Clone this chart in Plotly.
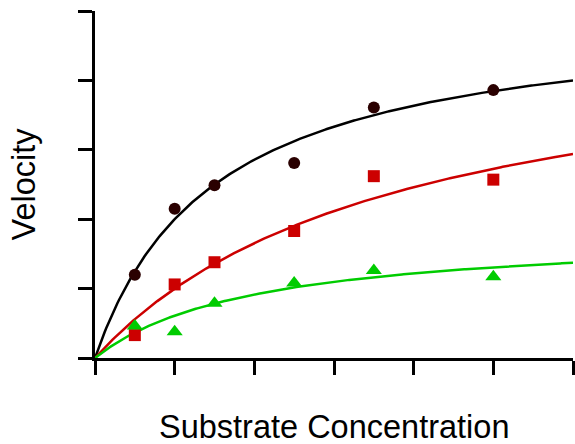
import numpy as np
import plotly.graph_objects as go

# Measured data
substrate = [0.5, 1.0, 1.5, 2.5, 3.5, 5.0]
v_black = [1.20, 2.15, 2.49, 2.81, 3.61, 3.86]
v_red = [0.33, 1.06, 1.38, 1.83, 2.62, 2.57]
v_green = [0.46, 0.38, 0.79, 1.08, 1.26, 1.17]

# Fitted Michaelis-Menten parameters
vmax = [5.0, 4.8, 1.83]
km = [1.5, 3.8, 2.0]

x_ticks = [0, 1, 2, 3, 4, 5, 6]
y_ticks = [0, 1, 2, 3, 4, 5]

series = [
    (v_black, "#000000", "#2a0000", "circle", 12),
    (v_red, "#cc0000", "#cc0000", "square", 12),
    (v_green, "#00cc00", "#00cc00", "triangle-up", 14),
]

fig = go.Figure()
xf = np.linspace(0, 6, 300)
for (vals, lc, mc, sym, ms), vm, k in zip(series, vmax, km):
    fig.add_trace(go.Scatter(x=xf, y=vm * xf / (k + xf), mode="lines",
                             line=dict(color=lc, width=2.5), showlegend=False,
                             hoverinfo="skip"))
for (vals, lc, mc, sym, ms) in series:
    fig.add_trace(go.Scatter(x=substrate, y=vals, mode="markers",
                             marker=dict(symbol=sym, size=ms, color=mc,
                                         line=dict(width=0)),
                             showlegend=False, cliponaxis=False))

axis_common = dict(showgrid=False, zeroline=False, showline=True, linecolor="black",
                   linewidth=3, ticks="outside", ticklen=14, tickwidth=3,
                   tickcolor="black", showticklabels=False)
fig.update_xaxes(range=[0, 6], tickvals=x_ticks, **axis_common)
fig.update_yaxes(range=[0, 5], tickvals=y_ticks, **axis_common)

font = dict(family="Liberation Sans, Arial, sans-serif", size=32.5, color="black")
fig.add_annotation(text="Substrate Concentration", xref="paper", yref="paper",
                   x=0.5, y=0, xanchor="center", yanchor="top", yshift=-49,
                   showarrow=False, font=font)
fig.add_annotation(text="Velocity", xref="paper", yref="paper",
                   x=0, y=0.5, xanchor="center", yanchor="middle", xshift=-72,
                   textangle=-90, showarrow=False, font=font)

fig.update_layout(width=575, height=444, margin=dict(l=94.5, r=1.5, t=10.7, b=86),
                  plot_bgcolor="white", paper_bgcolor="white")
fig.write_html("out.html", config={"responsive": False, "displayModeBar": False},
               post_script="document.body.style.margin='0';document.body.style.overflow='hidden';")
